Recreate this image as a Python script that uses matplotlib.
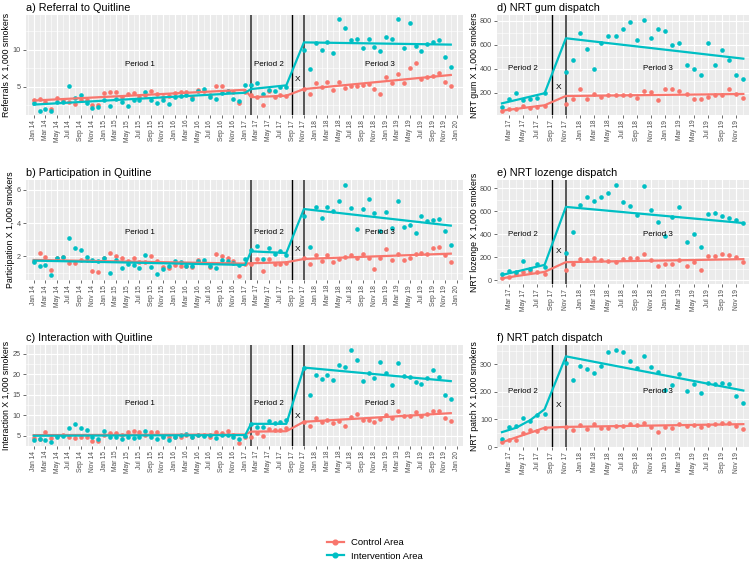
import matplotlib
matplotlib.use("Agg")
import matplotlib.pyplot as plt
import numpy as np
from matplotlib.lines import Line2D
from matplotlib.ticker import MultipleLocator

plt.rcParams["font.family"] = ["Liberation Sans", "DejaVu Sans"]

CONTROL = "#F8766D"
INTERVENTION = "#00BFC4"
MONTH_NAMES = ["Jan", "Feb", "Mar", "Apr", "May", "Jun",
               "Jul", "Aug", "Sep", "Oct", "Nov", "Dec"]

# monthly values, Jan 14 .. Dec 19 (month index 0..71), None = no data
referral_control = [3.2, 3.3, 3.0, 2.0, 3.5, 3.2, 3.0, 2.7, 3.2, 3.2, 2.5, 2.5,
                    4.1, 4.3, 4.3, 3.6, 4.0, 4.2, 3.6, 3.9, 4.4, 4.0, 3.6, 3.8,
                    4.2, 4.3, 4.3, 3.6, 4.6, 4.5, 3.9, 5.1, 5.1, 4.4, 4.3, 2.8,
                    4.3, 3.9, 3.6, 2.6, 4.4, 3.6, 3.9, 3.8, None, None, 4.7, 4.0,
                    5.5, 5.0, 5.6, 4.6, 5.6, 4.9, 5.1, 5.1, 5.2, 5.4, 4.7, 4.0,
                    6.3, 5.5, 6.7, 5.5, 7.5, 8.2, 6.0, 6.3, 6.5, 6.8, 5.7, 5.1]
referral_interv = [2.8, 1.75, 2.0, 1.8, 3.0, 3.0, 5.1, 3.5, 3.9, 2.8, 2.1, 2.3,
                   3.2, 2.4, 3.3, 3.0, 2.4, 3.2, 3.2, 4.3, 3.2, 2.8, 3.2, 2.7,
                   3.6, 3.7, 3.9, 3.3, 4.4, 4.7, 3.6, 3.3, 4.1, 4.4, 3.3, 3.1,
                   5.2, 5.2, 5.5, 4.0, 4.6, 4.5, 5.0, 5.0, None, None, 10.0, 7.4,
                   10.9, 10.0, 11.0, 9.5, 14.1, 13.0, 11.3, 11.5, 10.2, 11.4, 10.4, 9.8,
                   11.7, 11.4, 14.1, 10.2, 13.6, 10.5, 9.8, 10.8, 11.0, 11.3, 9.0, 7.7]

particip_control = [1.72, 2.2, 1.94, 1.18, 1.9, 1.94, 1.62, 1.58, 1.76, 1.78, 1.14, 1.06,
                    1.92, 2.2, 2.0, 1.9, 1.72, 1.9, 1.68, 1.68, 2.0, 1.7, 1.34, 1.3,
                    1.48, 1.44, 1.4, 1.34, 1.78, 1.68, 1.38, 2.12, 2.0, 1.9, 1.72, 0.81,
                    1.55, 1.52, 1.82, 1.14, 1.84, 1.52, 1.52, 1.62, None, None, 1.92, 1.56,
                    2.1, 1.74, 2.06, 1.68, 1.84, 1.98, 2.06, 1.9, 2.16, 1.92, 1.24, 1.88,
                    2.44, 1.78, 2.14, 1.76, 1.92, 2.14, 2.22, 2.16, 2.48, 2.56, 2.06, 1.64]
particip_interv = [1.64, 1.42, 1.46, 0.9, 1.92, 1.96, 3.09, 2.48, 2.38, 1.94, 1.75, 1.7,
                   1.9, 1.0, 1.76, 1.28, 1.56, 1.48, 1.3, 2.08, 1.36, 0.95, 1.24, 1.44,
                   1.72, 1.64, 1.44, 1.42, 1.72, 1.8, 1.42, 1.3, 1.76, 1.72, 1.58, 1.5,
                   1.84, 2.36, 2.62, 1.84, 2.52, 2.12, 2.3, 2.08, None, None, 4.43, 2.54,
                   5.0, 4.33, 4.95, 4.75, 5.32, 6.3, 4.9, 3.63, 4.85, 5.44, 4.63, 3.53,
                   4.65, 3.69, 5.36, 3.79, 3.87, 3.39, 4.45, 4.13, 4.17, 4.25, 3.55, 2.68]

interact_control = [4.4, 4.3, 5.9, 4.5, 4.9, 5.1, 4.7, 4.5, 4.75, 4.75, 3.8, 3.8,
                    5.3, 5.6, 5.65, 5.3, 6.0, 6.1, 5.8, 5.3, 5.9, 5.8, 4.9, 4.6,
                    4.75, 4.7, 5.1, 4.6, 5.3, 5.3, 4.6, 5.8, 5.7, 6.2, 5.3, 3.3,
                    4.6, 4.75, 5.65, 4.85, 6.7, 6.3, 6.4, 7.0, None, None, 8.4, 7.3,
                    9.3, 8.3, 8.8, 8.2, 8.5, 7.4, 9.5, 10.4, 8.9, 8.9, 8.4, 9.0,
                    10.1, 9.3, 11.1, 9.8, 9.8, 10.7, 9.8, 10.2, 11.1, 11.1, 9.3, 8.5]
interact_interv = [3.85, 4.2, 3.9, 3.5, 4.75, 5.0, 6.9, 7.8, 7.0, 6.5, 4.7, 4.3,
                   6.1, 4.6, 4.6, 4.3, 4.6, 4.4, 4.6, 6.1, 4.75, 4.1, 4.7, 4.0,
                   4.7, 5.3, 5.4, 4.8, 5.1, 5.0, 5.1, 4.4, 5.3, 5.1, 4.8, 4.1,
                   5.0, 7.8, 7.2, 7.2, 8.6, 8.2, 8.3, 8.9, None, None, 21.4, 15.0,
                   19.7, 18.9, 19.9, 18.5, 22.2, 21.8, 25.9, 23.4, 18.4, 20.2, 19.0, 23.0,
                   20.3, 17.4, 22.8, 19.6, 19.2, 18.1, 17.6, 19.0, 21.0, 19.2, 15.0, 13.9]

# monthly values, Feb 17 .. Dec 19 (month index 37..71)
gum_control = [47, 64, 61, 92, 69, 83, 89, None, None, 103, 147, 231, 147, 189, 167,
               178, 181, 181, 178, 156, 214, 203, 136, 233, 233, 211, 189, 150, 144,
               161, 178, 178, 231, 189, 158]
gum_interv = [78, 144, 200, 139, 144, 153, 200, None, None, 375, 472, 695, 561, 395, 611,
              670, 673, 728, 789, 636, 806, 659, 731, 717, 600, 617, 431, 397, 350,
              611, 433, 553, 472, 350, 317]
lozenge_control = [21, 29, 56, 74, 76, 71, 56, None, None, 88, 138, 182, 171, 191, 171,
                   162, 159, 182, 194, 194, 226, 171, 126, 144, 144, 176, 126, 153, 91,
                   212, 206, 229, 215, 197, 153]
lozenge_interv = [50, 79, 70, 162, 97, 138, 115, None, None, 238, 418, 653, 720, 685, 720,
                  761, 830, 682, 647, 570, 820, 609, 506, 380, 550, 638, 329, 403, 285,
                  573, 588, 559, 538, 523, 497]
patch_control = [17, 27, 26, 51, 60, 58, 69, None, None, 73, 61, 79, 64, 85, 70,
                 70, 75, 77, 85, 81, 88, 73, 53, 73, 70, 85, 78, 81, 73,
                 81, 85, 88, 88, 77, 67]
patch_interv = [30, 73, 75, 107, 95, 115, 120, None, None, 305, 244, 293, 284, 270, 293,
                344, 353, 346, 313, 285, 332, 290, 272, 206, 226, 265, 204, 227, 196,
                232, 228, 232, 228, 184, 160]

# segmented regression fits, values at the knot months
LEFT_KNOTS = [0, 36, 37, 43, 46, 71]
RIGHT_KNOTS = [37, 39, 41, 43, 46, 71]
referral_fit_c = [3.15, 4.6, 3.6, 3.8, 4.7, 6.6]
referral_fit_i = [2.6, 4.2, 4.7, 5.2, 11.0, 10.7]
particip_fit_c = [1.78, 1.56, 1.58, 1.64, 1.84, 2.16]
particip_fit_i = [1.74, 1.48, 2.3, 2.2, 4.85, 3.85]
interact_fit_c = [5.15, 5.3, 6.0, 6.1, 8.4, 10.5]
interact_fit_i = [5.0, 5.15, 7.9, 7.9, 21.6, 18.3]
gum_fit_c = [50, 65, 80, 95, 172, 189]
gum_fit_i = [111, 139, 167, 195, 653, 483]
lozenge_fit_c = [15, 34, 52, 71, 156, 182]
lozenge_fit_i = [44, 73, 103, 132, 638, 497]
patch_fit_c = [17, 35, 52, 70, 73, 83]
patch_fit_i = [54, 70, 98, 137, 329, 205]


def month_label(m):
    return f"{MONTH_NAMES[m % 12]} {14 + m // 12}"


def style_axis(ax, ystep):
    ax.set_facecolor("#EBEBEB")
    for s in ax.spines.values():
        s.set_visible(False)
    ax.xaxis.set_minor_locator(MultipleLocator(1))
    ax.yaxis.set_major_locator(MultipleLocator(ystep))
    ax.yaxis.set_minor_locator(MultipleLocator(ystep / 2))
    ax.grid(which="major", color="white", lw=0.8)
    ax.grid(which="minor", color="white", lw=0.4)
    ax.set_axisbelow(True)
    ax.tick_params(which="major", length=2, width=0.5, color="#333333", pad=1.5,
                   labelcolor="#4D4D4D")
    ax.tick_params(which="minor", length=0)
    ax.tick_params(axis="x", labelsize=4.8, labelrotation=90)
    ax.tick_params(axis="y", labelsize=5.2)


def draw_panel(ax, start, control, interv, knots, fit_c, fit_i):
    months = np.arange(start, start + len(control))
    c = np.array([np.nan if v is None else v for v in control], dtype=float)
    i = np.array([np.nan if v is None else v for v in interv], dtype=float)
    ax.scatter(months, c, s=11, color=CONTROL, lw=0, zorder=3)
    ax.scatter(months, i, s=11, color=INTERVENTION, lw=0, zorder=3)
    ax.plot(knots, fit_c, color=CONTROL, lw=1.6, zorder=4)
    ax.plot(knots, fit_i, color=INTERVENTION, lw=1.6, zorder=4)


fig = plt.figure(figsize=(7.5, 5.65), dpi=100)

left_panels = [
    ("a) Referral to Quitline", "Referrals X 1,000 smokers",
     referral_control, referral_interv, referral_fit_c, referral_fit_i,
     [0.034, 0.7965, 0.5827, 0.177], (1.2, 14.7), 5, (8.0, 5.95)),
    ("b) Participation in Quitline", "Participation X 1,000 smokers",
     particip_control, particip_interv, particip_fit_c, particip_fit_i,
     [0.034, 0.5044, 0.5827, 0.177], (0.57, 6.6), 2, (3.45, 2.44)),
    ("c) Interaction with Quitline", "Interaction X 1,000 smokers",
     interact_control, interact_interv, interact_fit_c, interact_fit_i,
     [0.034, 0.2106, 0.5827, 0.1788], (2.5, 27.1), 5, (12.8, 9.7)),
]

right_panels = [
    ("d) NRT gum dispatch", "NRT gum X 1,000 smokers",
     gum_control, gum_interv, gum_fit_c, gum_fit_i,
     [0.6627, 0.7965, 0.336, 0.177], (14, 847), 200, (400, 245)),
    ("e) NRT lozenge dispatch", "NRT lozenge X 1,000 smokers",
     lozenge_control, lozenge_interv, lozenge_fit_c, lozenge_fit_i,
     [0.6627, 0.4973, 0.336, 0.184], (-35, 872), 200, (397, 247)),
    ("f) NRT patch dispatch", "NRT patch X 1,000 smokers",
     patch_control, patch_interv, patch_fit_c, patch_fit_i,
     [0.6627, 0.2088, 0.336, 0.1805], (0, 370), 100, (200, 150)),
]

for title, ylabel, ctrl, intv, fc, fi, pos, ylim, ystep, (ty, tx) in left_panels:
    ax = fig.add_axes(pos)
    style_axis(ax, ystep)
    draw_panel(ax, 0, ctrl, intv, LEFT_KNOTS, fc, fi)
    ax.axvline(37, color="#555555", lw=1.4, zorder=2.5)
    ax.axvline(44, color="black", lw=1.0, zorder=2.5)
    ax.axvline(46, color="#555555", lw=1.4, zorder=2.5)
    ticks = list(range(0, 73, 2))
    ax.set_xticks(ticks)
    ax.set_xticklabels([month_label(m) for m in ticks])
    ax.set_xlim(-1.4, 73.0)
    ax.set_ylim(*ylim)
    ax.set_title(title, loc="left", fontsize=7.8, pad=3)
    ax.set_ylabel(ylabel, fontsize=6.3, labelpad=1)
    ax.text(18, ty, "Period 1", fontsize=5.8, ha="center", va="center")
    ax.text(40, ty, "Period 2", fontsize=5.8, ha="center", va="center")
    ax.text(59, ty, "Period 3", fontsize=5.8, ha="center", va="center")
    ax.text(45, tx, "X", fontsize=6, ha="center", va="center")

for title, ylabel, ctrl, intv, fc, fi, pos, ylim, ystep, (ty, tx) in right_panels:
    ax = fig.add_axes(pos)
    style_axis(ax, ystep)
    draw_panel(ax, 37, ctrl, intv, RIGHT_KNOTS, fc, fi)
    ax.axvline(44, color="black", lw=1.0, zorder=2.5)
    ax.axvline(46, color="#555555", lw=1.4, zorder=2.5)
    ticks = list(range(38, 71, 2))
    ax.set_xticks(ticks)
    ax.set_xticklabels([month_label(m) for m in ticks])
    ax.set_xlim(36.3, 71.8)
    ax.set_ylim(*ylim)
    ax.set_title(title, loc="left", fontsize=7.8, pad=3)
    ax.set_ylabel(ylabel, fontsize=6.3, labelpad=1)
    ax.text(40, ty, "Period 2", fontsize=5.8, ha="center", va="center")
    ax.text(59, ty, "Period 3", fontsize=5.8, ha="center", va="center")
    ax.text(45, tx, "X", fontsize=6, ha="center", va="center")

handles = [
    Line2D([0], [0], color=CONTROL, lw=1.6, marker="o", ms=3.4),
    Line2D([0], [0], color=INTERVENTION, lw=1.6, marker="o", ms=3.4),
]
leg = fig.legend(handles, ["Control Area", "Intervention Area"], loc="center",
                 bbox_to_anchor=(0.5, 0.028), frameon=False, fontsize=6.8,
                 handlelength=1.8, labelspacing=0.5)

fig.savefig("out.png", dpi=100)
